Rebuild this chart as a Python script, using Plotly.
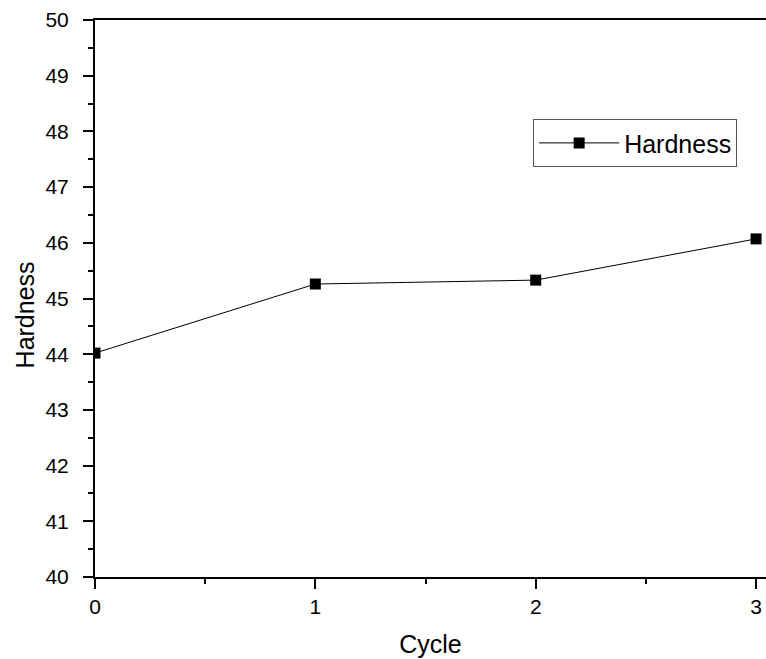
import plotly.graph_objects as go

cycles = [0, 1, 2, 3]
hardness = [44.02, 45.26, 45.33, 46.07]
x_ticks = [0, 1, 2, 3]
y_ticks = [40, 41, 42, 43, 44, 45, 46, 47, 48, 49, 50]

fig = go.Figure()
fig.add_trace(go.Scatter(
    x=cycles, y=hardness, mode="lines+markers", name="Hardness",
    line=dict(color="black", width=1),
    marker=dict(symbol="square", size=11, color="black"),
))

font_family = "Liberation Sans, Arial, sans-serif"
fig.update_layout(
    width=766, height=659,
    margin=dict(l=95, r=0, t=20, b=82),
    paper_bgcolor="white", plot_bgcolor="white",
    font=dict(family=font_family, color="black"),
    showlegend=True,
    legend=dict(
        x=0.653, y=0.822, xanchor="left", yanchor="top",
        bordercolor="#555555", borderwidth=1, bgcolor="white",
        itemwidth=80,
        font=dict(size=25, family=font_family),
    ),
    xaxis=dict(
        range=[0, 3.045], tickvals=x_ticks, ticktext=[str(v) for v in x_ticks],
        showgrid=False, zeroline=False,
        showline=True, linecolor="black", linewidth=2, mirror=True,
        ticks="outside", ticklen=10, tickwidth=2, tickcolor="black",
        minor=dict(dtick=0.5, ticks="outside", ticklen=5, tickwidth=2, tickcolor="black"),
        tickfont=dict(size=21),
        title=dict(text="Cycle", font=dict(size=25), standoff=18),
    ),
    yaxis=dict(
        range=[40, 50], tickvals=y_ticks, ticktext=[str(v) for v in y_ticks],
        showgrid=False, zeroline=False,
        showline=True, linecolor="black", linewidth=2,
        ticks="outside", ticklen=10, tickwidth=2, tickcolor="black",
        minor=dict(dtick=0.5, ticks="outside", ticklen=5, tickwidth=2, tickcolor="black"),
        tickfont=dict(size=21), ticklabelstandoff=10,
    ),
    annotations=[dict(
        text="Hardness", xref="paper", yref="paper",
        x=-0.104, y=0.470, xanchor="center", yanchor="middle",
        textangle=-90, showarrow=False, font=dict(size=25),
    )],
)

fig.write_html("out.html")
